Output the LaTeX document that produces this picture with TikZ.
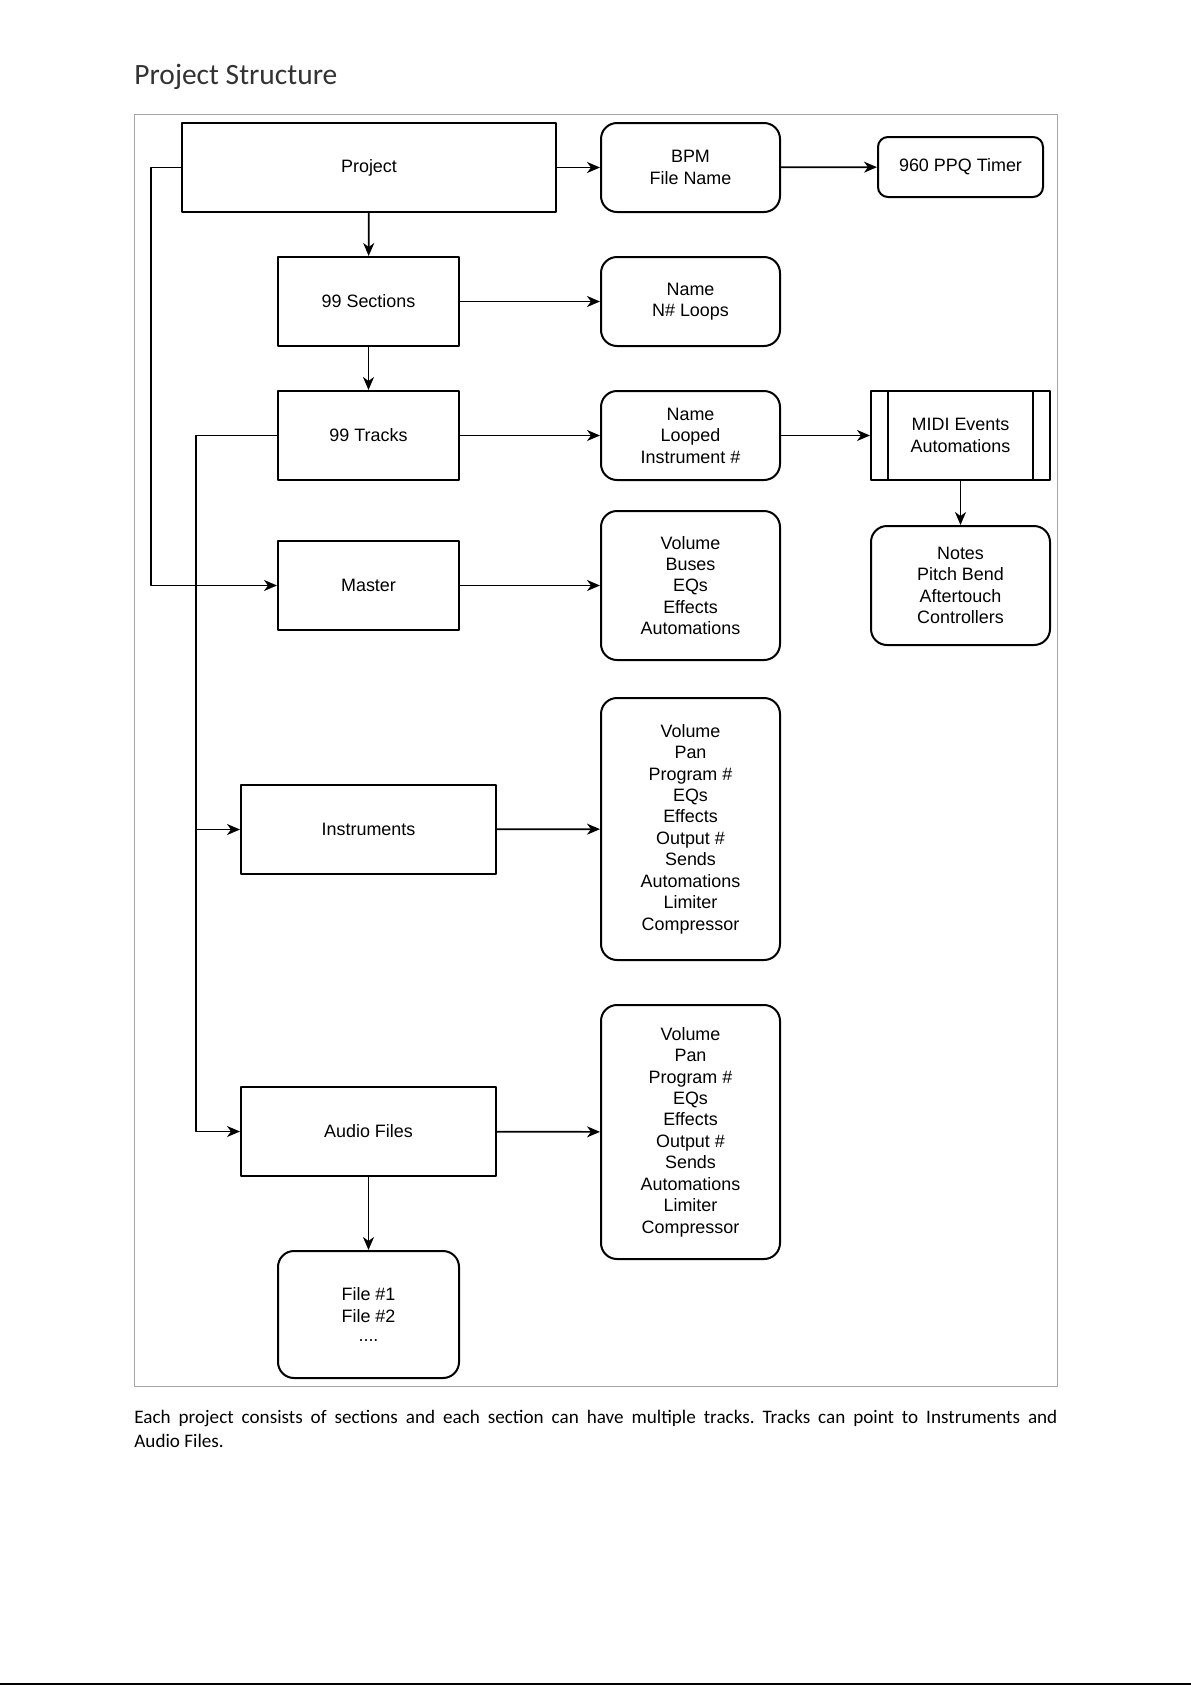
\documentclass[tikz,border=0pt]{standalone}
\usepackage{fontspec}
\setmainfont{Liberation Sans}
\newfontfamily\docfont{Carlito}
\usetikzlibrary{arrows.meta}
\frenchspacing
\begin{document}
\begin{tikzpicture}[x=0.5bp, y=-0.5bp, line join=round, >={Stealth[length=6.5bp,width=5.5bp,inset=2bp]},
  font=\fontsize{9}{10.75}\selectfont,
  box/.style={draw, line width=1bp, align=center, inner sep=0pt},
  rbox/.style={box, rounded corners=8bp},
  link/.style={->, line width=0.85bp}]
\useasboundingbox (0,0) rectangle (1191,1685);
% page text
\node[anchor=base west, inner sep=0pt, text=black!80, font=\docfont\fontsize{14.8}{17}\selectfont] (title) at (134,84) {Project Structure};
\draw[gray!70, line width=0.5bp] (134,114) rectangle (1057,1386);
\node[anchor=north west, inner sep=0pt, text width=461.5bp, align=justify, font=\docfont\fontsize{9.6}{11.8}\selectfont] (caption) at (134,1410)
  {Each project consists of sections and each section can have multiple tracks. Tracks can point to Instruments and\linebreak Audio Files.};
\draw[line width=1bp] (0,1684) -- (1191,1684);
% left column
\node[box, minimum width=187bp, minimum height=44.5bp] (project) at (369,167.5) {Project};
\node[box, minimum width=90.5bp, minimum height=44.5bp] (sections) at (368.5,301.5) {99 Sections};
\node[box, minimum width=90.5bp, minimum height=44.5bp] (tracks) at (368.5,435.5) {99 Tracks};
\node[box, minimum width=90.5bp, minimum height=44.5bp] (master) at (368.5,585.5) {Master};
\node[box, minimum width=127.5bp, minimum height=44.5bp] (instruments) at (368.5,829.5) {Instruments};
\node[box, minimum width=127.5bp, minimum height=44.5bp] (audio) at (368.5,1131.5) {Audio Files};
\node[rbox, minimum width=90.5bp, minimum height=63.5bp] (files) at (368.5,1314.5) {File \#1\\File \#2\\[-1bp]....};
% middle column
\node[rbox, minimum width=89.5bp, minimum height=44.5bp] (bpm) at (690.5,167.5) {BPM\\File Name};
\node[rbox, minimum width=89.5bp, minimum height=44.5bp] (secinfo) at (690.5,301.5) {Name\\N\# Loops};
\node[rbox, minimum width=89.5bp, minimum height=44.5bp] (trackinfo) at (690.5,435.5) {Name\\Looped\\Instrument \#};
\node[rbox, minimum width=89.5bp, minimum height=74.5bp] (masterinfo) at (690.5,585.5) {Volume\\Buses\\EQs\\Effects\\Automations};
\node[rbox, minimum width=89.5bp, minimum height=131bp] (instinfo) at (690.5,829) {Volume\\Pan\\Program \#\\EQs\\Effects\\Output \#\\Sends\\Automations\\Limiter\\Compressor};
\node[rbox, minimum width=89.5bp, minimum height=127bp] (audioinfo) at (690.5,1132) {Volume\\Pan\\Program \#\\EQs\\Effects\\Output \#\\Sends\\Automations\\Limiter\\Compressor};
% right column
\node[rbox, rounded corners=5bp, minimum width=82.5bp, minimum height=30bp] (timer) at (960.5,167) {960 PPQ Timer};
\node[box, minimum width=89.5bp, minimum height=44.5bp] (midi) at (960.5,435.5) {MIDI Events\\Automations};
\draw[line width=0.8bp] ([xshift=9bp]midi.north west) -- ([xshift=9bp]midi.south west)
  ([xshift=-9bp]midi.north east) -- ([xshift=-9bp]midi.south east);
\node[rbox, minimum width=89.5bp, minimum height=59.5bp] (notes) at (960.5,585.5) {Notes\\Pitch Bend\\Aftertouch\\Controllers};
% connectors
\draw[link] (project) -- (bpm);
\draw[link] (bpm) -- (timer);
\draw[link] (project) -- (sections);
\draw[link] (sections) -- (secinfo);
\draw[link] (sections) -- (tracks);
\draw[link] (tracks) -- (trackinfo);
\draw[link] (trackinfo) -- (midi);
\draw[link] (midi) -- (notes);
\draw[link] (master) -- (masterinfo);
\draw[link] (instruments) -- (instinfo);
\draw[link] (audio) -- (audioinfo);
\draw[link] (audio) -- (files);
\draw[link] (project.west) -- ++(-30,0) |- (master.west);
\draw[link] (tracks.west) -- ++(-81,0) coordinate (trackbus) |- (instruments.west);
\draw[link] (trackbus) |- (audio.west);
\end{tikzpicture}
\end{document}
